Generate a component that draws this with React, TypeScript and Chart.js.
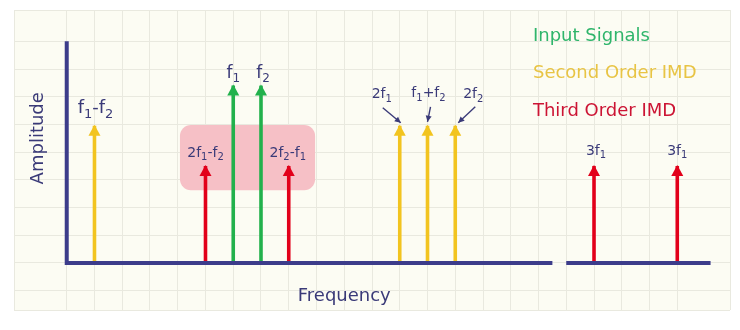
import React, { useEffect, useRef } from 'react';
import { Chart, registerables } from 'chart.js';
Chart.register(...registerables);

// ---- data ----
const signalLabels = ['f1-f2', '2f1-f2', 'f1', 'f2', '2f2-f1', '2f1', 'f1+f2', '2f2', '3f1', '3f1'];
const signalFreqs = [1, 5, 6, 7, 8, 12, 13, 14, 19, 22];
const signalAmps = [4.95, 3.5, 6.4, 6.4, 3.5, 4.95, 4.95, 4.95, 3.5, 3.5];
const signalOrders = [1, 2, 0, 0, 2, 1, 1, 1, 2, 2];
const orderNames = ['Input Signals', 'Second Order IMD', 'Third Order IMD'];
const axisTitles = ['Frequency', 'Amplitude'];
const yAxisTop = 8;
const xAxisSegments = [[0, 17.5], [18, 23.2]];
const imdBoxX = [4.08, 8.95];
const imdBoxY = [2.62, 4.98];

// ---- styles ----
const orderColors = ['#22b14c', '#f2c41f', '#e2001a'];
const orderTextColors = ['#2fb56b', '#e8c444', '#cc1434'];
const navy = '#3c3c8a';
const textNavy = '#3a3a78';
const FONT = '"DejaVu Sans", Verdana, sans-serif';
// label style per signal: [fontSize, dxPx, dyPx above tip]
const labelStyles: number[][] = [
  [18, 1, 17], [14, 0, 13], [17, 0, 12], [17, 2, 12], [14, -1, 13],
  [14, -18, 31], [14, 1, 32], [14, 18, 31], [14, 2, 15], [14, 0, 15],
];
// pointer arrows (from, to) offsets relative to tip for labels needing them
const pointers: Record<number, number[]> = {
  5: [-17, -18, 1, -3],
  6: [3, -19, 0, -4],
  7: [20, -19, 3, -3],
};

function drawSubText(ctx: CanvasRenderingContext2D, text: string, cx: number, cy: number, size: number, color: string) {
  const segs: { ch: string; sub: boolean; w: number }[] = [];
  for (let i = 0; i < text.length; i++) {
    const ch = text[i];
    const sub = /\d/.test(ch) && i > 0 && text[i - 1] === 'f';
    segs.push({ ch, sub, w: 0 });
  }
  const mainFont = `${size}px ${FONT}`;
  const subFont = `${Math.round(size * 0.7)}px ${FONT}`;
  let w = 0;
  segs.forEach((s) => {
    ctx.font = s.sub ? subFont : mainFont;
    s.w = ctx.measureText(s.ch).width;
    w += s.w;
  });
  let x = cx - w / 2;
  ctx.textBaseline = 'middle';
  ctx.textAlign = 'left';
  ctx.fillStyle = color;
  segs.forEach((s) => {
    ctx.font = s.sub ? subFont : mainFont;
    ctx.fillText(s.ch, x, s.sub ? cy + size * 0.32 : cy);
    x += s.w;
  });
}

const decorPlugin = {
  id: 'decor',
  beforeDraw(chart: any) {
    const { ctx, chartArea: a } = chart;
    ctx.save();
    ctx.fillStyle = '#ffffff';
    ctx.fillRect(0, 0, chart.width, chart.height);
    ctx.fillStyle = '#fcfcf3';
    ctx.fillRect(a.left, a.top, a.right - a.left, a.bottom - a.top);
    ctx.restore();
  },
  beforeDatasetsDraw(chart: any) {
    const { ctx, scales } = chart;
    const x0 = scales.x.getPixelForValue(imdBoxX[0]);
    const x1 = scales.x.getPixelForValue(imdBoxX[1]);
    const y0 = scales.y.getPixelForValue(imdBoxY[1]);
    const y1 = scales.y.getPixelForValue(imdBoxY[0]);
    ctx.save();
    ctx.fillStyle = '#f6c0c6';
    ctx.beginPath();
    (ctx as any).roundRect(x0, y0, x1 - x0, y1 - y0, 11);
    ctx.fill();
    ctx.restore();
  },
  afterDatasetsDraw(chart: any) {
    const { ctx, scales } = chart;
    const sx = scales.x, sy = scales.y;
    ctx.save();
    // arrowheads
    signalFreqs.forEach((f, i) => {
      const px = sx.getPixelForValue(f);
      const py = sy.getPixelForValue(signalAmps[i]);
      ctx.fillStyle = orderColors[signalOrders[i]];
      ctx.beginPath();
      ctx.moveTo(px, py - 1);
      ctx.lineTo(px + 6, py + 10);
      ctx.lineTo(px - 6, py + 10);
      ctx.closePath();
      ctx.fill();
    });
    // labels
    signalLabels.forEach((lab, i) => {
      const [size, dx, dy] = labelStyles[i];
      const px = sx.getPixelForValue(signalFreqs[i]);
      const py = sy.getPixelForValue(signalAmps[i]);
      drawSubText(ctx, lab, px + dx, py - dy, size, textNavy);
      const p = pointers[i];
      if (p) {
        const xa = px + p[0], ya = py + p[1], xb = px + p[2], yb = py + p[3];
        ctx.strokeStyle = textNavy;
        ctx.fillStyle = textNavy;
        ctx.lineWidth = 1.4;
        ctx.beginPath();
        ctx.moveTo(xa, ya);
        ctx.lineTo(xb, yb);
        ctx.stroke();
        const ang = Math.atan2(yb - ya, xb - xa);
        const hl = 6, hw = 3;
        ctx.beginPath();
        ctx.moveTo(xb, yb);
        ctx.lineTo(xb - hl * Math.cos(ang) + hw * Math.sin(ang), yb - hl * Math.sin(ang) - hw * Math.cos(ang));
        ctx.lineTo(xb - hl * Math.cos(ang) - hw * Math.sin(ang), yb - hl * Math.sin(ang) + hw * Math.cos(ang));
        ctx.closePath();
        ctx.fill();
      }
    });
    // legend
    orderNames.forEach((n, i) => {
      ctx.font = `18px ${FONT}`;
      ctx.fillStyle = orderTextColors[i];
      ctx.textAlign = 'left';
      ctx.textBaseline = 'middle';
      ctx.fillText(n, sx.getPixelForValue(16.8), sy.getPixelForValue(8.17 - i * 1.34));
    });
    // axis titles
    ctx.fillStyle = textNavy;
    ctx.font = `18px ${FONT}`;
    ctx.textAlign = 'center';
    ctx.textBaseline = 'middle';
    ctx.fillText(axisTitles[0], sx.getPixelForValue(10), sy.getPixelForValue(-1.2));
    ctx.save();
    ctx.translate(sx.getPixelForValue(-1.03), sy.getPixelForValue(4.5));
    ctx.rotate(-Math.PI / 2);
    ctx.fillText(axisTitles[1], 0, 0);
    ctx.restore();
    ctx.restore();
  },
};

export default function App() {
  const ref = useRef<HTMLCanvasElement | null>(null);
  useEffect(() => {
    document.body.style.margin = '0';
    if (!ref.current) return;
    const arrowSets = signalFreqs.map((f, i) => ({
      type: 'line' as const,
      label: signalLabels[i],
      data: [{ x: f, y: 0 }, { x: f, y: signalAmps[i] }],
      borderColor: orderColors[signalOrders[i]],
      borderWidth: 3.6,
      pointRadius: 0,
      order: 2,
    }));
    const axisSets = [
      {
        type: 'line' as const,
        label: 'axis',
        data: [{ x: 0, y: yAxisTop }, { x: 0, y: 0 }, { x: xAxisSegments[0][1], y: 0 }],
        borderColor: navy,
        borderWidth: 4,
        borderJoinStyle: 'miter' as const,
        pointRadius: 0,
        order: 1,
      },
      {
        type: 'line' as const,
        label: 'axis2',
        data: [{ x: xAxisSegments[1][0], y: 0 }, { x: xAxisSegments[1][1], y: 0 }],
        borderColor: navy,
        borderWidth: 4,
        pointRadius: 0,
        order: 1,
      },
    ];
    const chart = new Chart(ref.current, {
      type: 'line',
      data: { datasets: [...arrowSets, ...axisSets] as any },
      options: {
        animation: false,
        responsive: false,
        layout: { padding: { left: 14, right: 10, top: 10, bottom: 20 } },
        plugins: { legend: { display: false }, tooltip: { enabled: false } },
        scales: {
          x: {
            type: 'linear',
            min: -1.9,
            max: 23.9,
            ticks: { display: false, stepSize: 1 },
            grid: { color: '#e9e9df', drawTicks: false, lineWidth: 1 },
            border: { display: false },
            afterFit: (s: any) => { s.height = 0; },
          },
          y: {
            type: 'linear',
            min: -1.7,
            max: 9.13,
            ticks: { display: false, stepSize: 1 },
            grid: { color: '#e9e9df', drawTicks: false, lineWidth: 1 },
            border: { display: false },
            afterFit: (s: any) => { s.width = 0; },
          },
        },
      } as any,
      plugins: [decorPlugin],
    });
    return () => chart.destroy();
  }, []);
  return (
    <div style={{ width: 740, height: 330 }}>
      <canvas ref={ref} width={740} height={330} />
    </div>
  );
}
